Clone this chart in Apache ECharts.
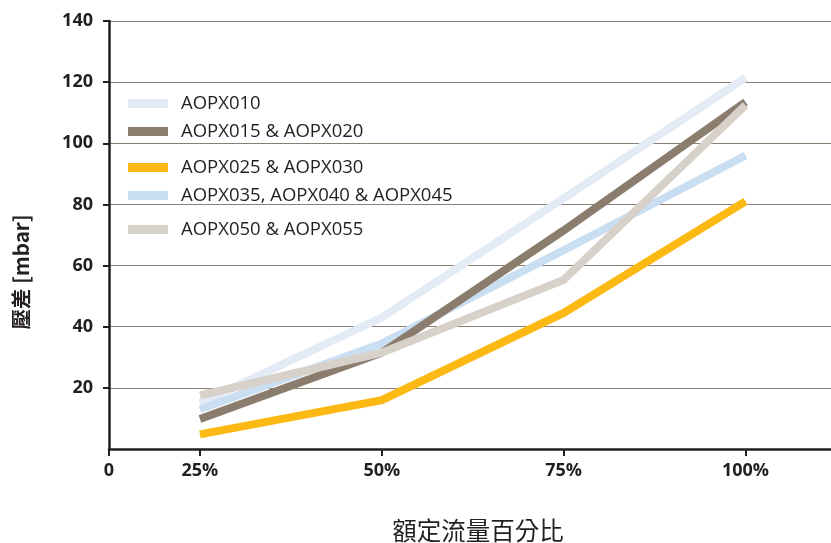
<!DOCTYPE html>
<html>
<head>
<meta charset="utf-8">
<script src="https://cdn.jsdelivr.net/npm/echarts@6/dist/echarts.min.js"></script>
<style>html,body{margin:0;padding:0;background:#fff}#c{width:831px;height:543px}</style>
</head>
<body>
<div id="c"></div>
<script>
var categories = ['25%', '50%', '75%', '100%'];
var originLabel = '0';
var yTicks = [20, 40, 60, 80, 100, 120, 140];
var seriesNames = ['AOPX010', 'AOPX015 & AOPX020', 'AOPX025 & AOPX030', 'AOPX035, AOPX040 & AOPX045', 'AOPX050 & AOPX055'];
var aopx010 = [15, 43, 82, 121.5];
var aopx015 = [9.8, 31.5, 71.5, 113.5];
var aopx025 = [4.8, 16, 44.5, 81];
var aopx035 = [13, 34.5, 65, 96];
var aopx050 = [17.5, 31.5, 55.3, 112.5];
var colors = ['#e3ebf6', '#8b7d6e', '#fdb913', '#cadef2', '#d7d1ca'];

// category i is drawn at the centre of band i on a band-unit value axis
function pts(vals) { return vals.map(function (v, i) { return [i + 0.5, v]; }); }
var tickPos = [0].concat(categories.map(function (c, i) { return i + 0.5; }));
var tickText = [originLabel].concat(categories);

var chart = echarts.init(document.getElementById('c'));
var txt = '#231f20';
function legend(names, top) {
  return {
    data: names, orient: 'vertical', left: 123, top: top,
    icon: 'rect', itemWidth: 40, itemHeight: 9, itemGap: 9,
    selectedMode: false,
    textStyle: { fontFamily: 'Open Sans', fontSize: 18.5, lineHeight: 18, color: txt, padding: [0, 0, 0, 8] }
  };
}
var valuesList = [aopx010, aopx015, aopx025, aopx035, aopx050];
var drawOrder = [0, 3, 1, 2, 4];
var series = drawOrder.map(function (k) {
  return {
    name: seriesNames[k], type: 'line', data: pts(valuesList[k]),
    showSymbol: false, symbol: 'none', silent: true,
    lineStyle: { color: colors[k], width: 8, join: 'miter' },
    itemStyle: { color: colors[k] },
    emphasis: { disabled: true }, z: 2 + drawOrder.indexOf(k)
  };
});
chart.setOption({
  animation: false,
  grid: { left: 109, right: 0, top: 21, bottom: 94, containLabel: false, outerBoundsMode: 'none' },
  legend: [
    legend([seriesNames[0], seriesNames[1]], 89),
    legend([seriesNames[2], seriesNames[3]], 153),
    legend([seriesNames[4]], 215)
  ],
  xAxis: {
    type: 'value', min: 0, max: 3.97,
    name: '額定流量百分比', nameLocation: 'middle', nameGap: 69,
    nameTextStyle: { fontFamily: 'Noto Sans CJK TC', fontSize: 24.5, color: txt, padding: [0, 0, 0, 16] },
    axisLine: { show: true, lineStyle: { color: txt, width: 2.5 } },
    axisTick: { show: true, customValues: tickPos, length: 7, lineStyle: { color: txt, width: 2 } },
    axisLabel: {
      customValues: tickPos, margin: 13,
      formatter: function (v) { var i = tickPos.indexOf(v); return i >= 0 ? tickText[i] : ''; },
      fontFamily: 'Open Sans', fontWeight: 'bold', fontSize: 18, color: txt
    },
    splitLine: { show: false }
  },
  yAxis: {
    type: 'value', min: 0, max: 140, interval: 20,
    name: '壓差 [mbar]', nameLocation: 'middle', nameGap: 78, nameRotate: 90,
    nameTextStyle: { fontFamily: 'Noto Sans CJK TC', fontSize: 20.5, fontWeight: 'bold', color: txt, padding: [0, 74, 0, 0] },
    axisLine: { show: true, lineStyle: { color: txt, width: 2.5 } },
    axisTick: { show: true, length: 6, lineStyle: { color: txt, width: 2 } },
    axisLabel: {
      showMinLabel: false, margin: 16,
      formatter: function (v) { return yTicks.indexOf(v) >= 0 ? String(v) : ''; },
      fontFamily: 'Open Sans', fontWeight: 'bold', fontSize: 18, color: txt
    },
    splitLine: { show: true, lineStyle: { color: '#8a7f73', width: 1.2 } }
  },
  series: series
});
</script>
</body>
</html>
